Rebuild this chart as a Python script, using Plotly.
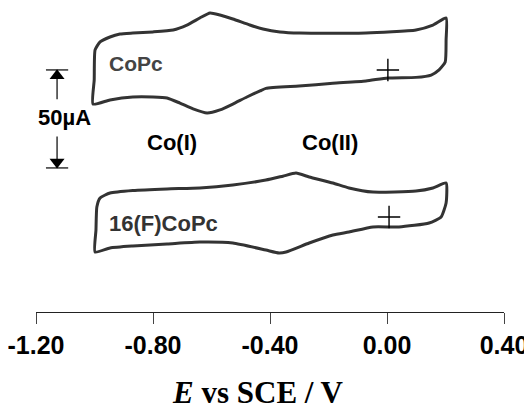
import plotly.graph_objects as go

# ---------------- data ----------------
# CoPc cyclic voltammogram (potential V vs SCE, current µA), traced clockwise
E_copc = [-1.005, -1.001, -0.998, -0.981, -0.947, -0.913, -0.869, -0.800, -0.731, -0.684,
          -0.640, -0.605, -0.571, -0.527, -0.469, -0.424, -0.366, -0.298, -0.072, 0.099,
          0.157, 0.202, 0.202, 0.199, 0.178, 0.151, 0.099, 0.003, -0.072, -0.185,
          -0.301, -0.414, -0.434, -0.479, -0.527, -0.571, -0.615, -0.663, -0.708, -0.752,
          -0.800, -0.869, -0.947, -1.005]
I_copc = [-18.9, -6.6, 8.7, 12.8, 15.3, 16.8, 17.3, 17.9, 18.9, 21.4,
          25.0, 27.6, 26.5, 24.5, 21.4, 19.4, 17.9, 17.3, 17.3, 18.9,
          21.4, 25.0, 13.8, 2.6, -1.5, -4.1, -5.3, -5.6, -7.1, -8.3,
          -9.7, -10.9, -12.2, -15.3, -18.9, -21.9, -23.5, -21.4, -18.4, -15.8,
          -15.3, -15.3, -16.8, -18.9]

# 16(F)CoPc cyclic voltammogram
E_fcopc = [-0.998, -0.995, -0.992, -0.981, -0.947, -0.869, -0.752, -0.640, -0.527, -0.414,
           -0.356, -0.311, -0.266, -0.185, -0.130, -0.048, 0.099, 0.157, 0.202, 0.202,
           0.185, 0.144, 0.041, -0.048, -0.130, -0.185, -0.266, -0.345, -0.369, -0.414,
           -0.527, -0.640, -0.752, -0.869, -0.947, -0.998]
I_fcopc = [-14.4, -3.2, 8.6, 13.2, 15.7, 17.0, 17.8, 18.3, 19.8, 22.3,
           24.3, 25.9, 23.9, 20.8, 18.3, 16.2, 16.7, 18.3, 20.8, 10.6,
           3.5, 0.4, -1.6, -1.6, -4.2, -5.7, -9.8, -14.4, -14.9, -13.4,
           -9.8, -9.3, -10.3, -11.3, -12.3, -14.4]

# vertical display offsets of the two voltammograms (µA)
OFFSET_COPC = 125.0
OFFSET_FCOPC = 45.0

# start-point "+" marks
PLUS_E = [0.003, 0.007]
PLUS_I = [-1.5, 3.5]

# current scale bar
SCALE_UA = 50.0
SCALE_BASE = 73.5
SCALE_E = -1.128
SCALE_CAP_HALF = 0.038

TICK_VALS = [-1.2, -0.8, -0.4, 0.0, 0.4]
TICK_TEXT = ["-1.20", "-0.80", "-0.40", "0.00", "0.40"]

# ---------------- figure ----------------
CURVE = "#333333"
fig = go.Figure()

fig.add_trace(go.Scatter(x=E_copc, y=[v + OFFSET_COPC for v in I_copc], mode="lines",
                         line=dict(color=CURVE, width=3, shape="spline", smoothing=0.5),
                         hoverinfo="skip"))
fig.add_trace(go.Scatter(x=E_fcopc, y=[v + OFFSET_FCOPC for v in I_fcopc], mode="lines",
                         line=dict(color=CURVE, width=3, shape="spline", smoothing=0.5),
                         hoverinfo="skip"))
fig.add_trace(go.Scatter(x=PLUS_E, y=[PLUS_I[0] + OFFSET_COPC, PLUS_I[1] + OFFSET_FCOPC],
                         mode="markers",
                         marker=dict(symbol="cross-thin", size=16,
                                     line=dict(color="black", width=1.4)),
                         hoverinfo="skip"))

# scale bar
top = SCALE_BASE + SCALE_UA
bot = SCALE_BASE
gap_top = SCALE_BASE + SCALE_UA * 0.7
gap_bot = SCALE_BASE + SCALE_UA * 0.32
fig.add_trace(go.Scatter(
    x=[SCALE_E - SCALE_CAP_HALF, SCALE_E + SCALE_CAP_HALF, None,
       SCALE_E, SCALE_E, None, SCALE_E, SCALE_E, None,
       SCALE_E - SCALE_CAP_HALF, SCALE_E + SCALE_CAP_HALF],
    y=[top, top, None, top, gap_top, None, gap_bot, bot, None, bot, bot],
    mode="lines", line=dict(color="black", width=1.2), hoverinfo="skip"))
fig.add_trace(go.Scatter(
    x=[SCALE_E, SCALE_E], y=[top - SCALE_UA * 0.06, bot + SCALE_UA * 0.06],
    mode="markers",
    marker=dict(symbol=["triangle-up", "triangle-down"], size=13, color="black"),
    hoverinfo="skip"))

ann_font = dict(family="Liberation Sans", size=22, color="black", weight="bold")
annotations = [
    dict(x=SCALE_E + 0.027, y=SCALE_BASE + SCALE_UA * 0.51, text="50µA", showarrow=False,
         xanchor="center", yanchor="middle", font=dict(family="Liberation Sans", size=22,
                                                        color="black", weight="bold")),
    dict(x=-0.957, y=127.0, text="CoPc", showarrow=False, xanchor="left", yanchor="middle",
         font=dict(family="Liberation Sans", size=21, color="#444444", weight="bold")),
    dict(x=-0.957, y=45.4, text="16(F)CoPc", showarrow=False, xanchor="left", yanchor="middle",
         font=dict(family="Liberation Sans", size=22, color="#333333", weight="bold")),
    dict(x=-0.735, y=86.7, text="Co(I)", showarrow=False, xanchor="center", yanchor="middle",
         font=ann_font),
    dict(x=-0.195, y=86.7, text="Co(II)", showarrow=False, xanchor="center", yanchor="middle",
         font=ann_font),
    dict(x=0.475, y=-0.264, xref="paper", yref="paper", text="<i>E</i> vs SCE / V",
         showarrow=False, xanchor="center", yanchor="middle",
         font=dict(family="Liberation Serif", size=31, color="black", weight="bold")),
]

# page body has an 8px margin, so the figure is sized/placed to compensate
fig.update_layout(
    width=524, height=397,
    margin=dict(l=28, r=28, t=0, b=93, pad=0),
    paper_bgcolor="white", plot_bgcolor="white",
    showlegend=False,
    annotations=annotations,
    xaxis=dict(range=[-1.2, 0.4], tickvals=TICK_VALS, ticktext=TICK_TEXT,
               automargin=False, ticklabeloverflow="allow",
               showgrid=False, zeroline=False, showline=True, linecolor="#222222",
               linewidth=1, ticks="outside", ticklen=11, tickwidth=1, tickcolor="#444444",
               tickfont=dict(family="Liberation Sans", size=25, color="black", weight="bold")),
    yaxis=dict(range=[0, 155.1], visible=False, automargin=False),
)

fig.write_html("out.html")
